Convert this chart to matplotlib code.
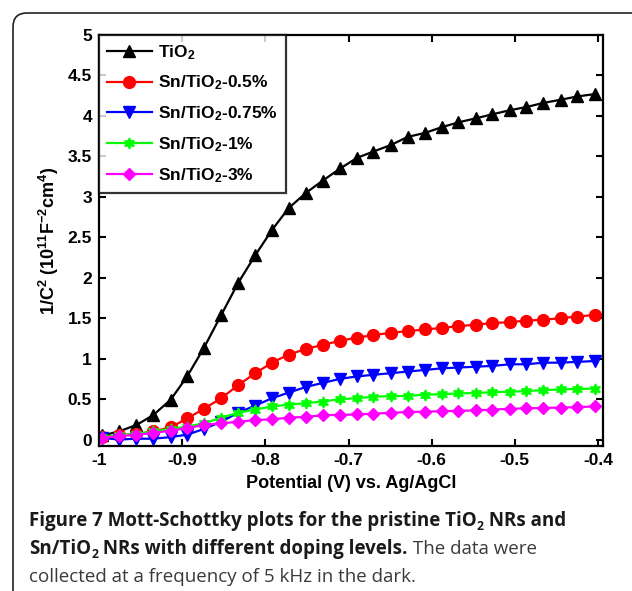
import matplotlib
matplotlib.use("Agg")
import matplotlib.pyplot as plt
from matplotlib.patches import FancyBboxPatch
from matplotlib.transforms import IdentityTransform

# potential (V vs. Ag/AgCl)
potential = [-0.996, -0.976, -0.955, -0.935, -0.914, -0.894, -0.874, -0.853, -0.833, -0.812,
             -0.792, -0.772, -0.751, -0.731, -0.710, -0.690, -0.670, -0.649, -0.629, -0.608,
             -0.588, -0.568, -0.547, -0.527, -0.506, -0.486, -0.466, -0.445, -0.425, -0.404]

# 1/C^2 (1e11 F^-2 cm^4)
tio2 = [0.05, 0.10, 0.18, 0.30, 0.49, 0.78, 1.13, 1.54, 1.93, 2.28,
        2.59, 2.86, 3.05, 3.20, 3.35, 3.48, 3.56, 3.64, 3.74, 3.79,
        3.86, 3.92, 3.97, 4.02, 4.07, 4.11, 4.16, 4.20, 4.24, 4.27]
sn_05 = [0.03, 0.05, 0.07, 0.10, 0.15, 0.26, 0.38, 0.51, 0.67, 0.82,
         0.95, 1.05, 1.12, 1.17, 1.22, 1.26, 1.29, 1.32, 1.34, 1.36,
         1.38, 1.40, 1.42, 1.44, 1.45, 1.47, 1.48, 1.50, 1.52, 1.54]
sn_075 = [0.02, 0.00, 0.01, 0.01, 0.03, 0.06, 0.13, 0.22, 0.33, 0.42,
          0.51, 0.58, 0.65, 0.70, 0.75, 0.78, 0.80, 0.82, 0.84, 0.86,
          0.88, 0.89, 0.90, 0.91, 0.93, 0.93, 0.95, 0.95, 0.96, 0.97]
sn_1 = [0.03, 0.05, 0.07, 0.10, 0.13, 0.16, 0.20, 0.27, 0.33, 0.37,
        0.41, 0.43, 0.45, 0.47, 0.50, 0.51, 0.53, 0.535, 0.54, 0.555,
        0.56, 0.57, 0.575, 0.585, 0.59, 0.60, 0.61, 0.62, 0.625, 0.63]
sn_3 = [0.02, 0.04, 0.06, 0.08, 0.11, 0.14, 0.18, 0.20, 0.22, 0.24,
        0.25, 0.27, 0.28, 0.30, 0.305, 0.31, 0.32, 0.33, 0.34, 0.345,
        0.35, 0.355, 0.36, 0.37, 0.38, 0.385, 0.39, 0.395, 0.40, 0.41]

labels = ["TiO$_2$", "Sn/TiO$_2$-0.5%", "Sn/TiO$_2$-0.75%", "Sn/TiO$_2$-1%", "Sn/TiO$_2$-3%"]
x_ticks = [-1, -0.9, -0.8, -0.7, -0.6, -0.5, -0.4]
x_ticklabels = ["-1", "-0.9", "-0.8", "-0.7", "-0.6", "-0.5", "-0.4"]
y_ticks = [0, 0.5, 1, 1.5, 2, 2.5, 3, 3.5, 4, 4.5, 5]
y_ticklabels = ["0", "0.5", "1", "1.5", "2", "2.5", "3", "3.5", "4", "4.5", "5"]

plt.rcParams["font.family"] = ["Liberation Sans", "DejaVu Sans"]
plt.rcParams["font.weight"] = "bold"
plt.rcParams["mathtext.fontset"] = "custom"
plt.rcParams["mathtext.rm"] = "Liberation Sans:bold"
plt.rcParams["mathtext.bf"] = "Liberation Sans:bold"
plt.rcParams["mathtext.default"] = "bf"

W, H = 632, 591
fig = plt.figure(figsize=(W / 100, H / 100), dpi=100)

# outer rounded frame (only top-left corner is visible)
frame = FancyBboxPatch((13, H - 13 - 700), 700, 700, boxstyle="round,pad=0,rounding_size=14",
                       transform=IdentityTransform(), facecolor="none",
                       edgecolor="#222222", linewidth=1.2)
fig.add_artist(frame)

left, right, top, bottom = 99, 603, 35, 446
ax = fig.add_axes([left / W, 1 - bottom / H, (right - left) / W, (bottom - top) / H])

styles = [
    ("black", "^", 8),
    ("#ff0000", "o", 8.5),
    ("#0000ff", "v", 8),
    ("#00ff00", (6, 1, 0), 8),
    ("#ff00ff", "D", 6.5),
]
for ys, lab, (c, m, ms) in zip([tio2, sn_05, sn_075, sn_1, sn_3], labels, styles):
    ax.plot(potential, ys, color=c, marker=m, markersize=ms, linewidth=1.6,
            markeredgecolor=c, markerfacecolor=c, label=lab)

ax.set_xlim(-1, -0.394)
ax.set_ylim(-0.08, 5)
ax.set_xticks(x_ticks)
ax.set_xticklabels(x_ticklabels)
ax.set_yticks(y_ticks)
ax.set_yticklabels(y_ticklabels)
ax.tick_params(direction="in", length=5, width=1.5, labelsize=12.5, top=True, right=True, pad=5)
for s in ax.spines.values():
    s.set_linewidth(1.6)

ax.set_xlabel("Potential (V) vs. Ag/AgCl", fontsize=13, fontweight="bold", labelpad=5)
ax.set_ylabel("1/C$^2$ (10$^{11}$F$^{-2}$cm$^4$)", fontsize=13, fontweight="bold", labelpad=5)

leg = ax.legend(loc="upper left", fontsize=12.5, frameon=True, fancybox=False,
                edgecolor="black", borderaxespad=0, handlelength=2.6, handletextpad=0.35,
                labelspacing=0.7, borderpad=0.45)
leg.get_frame().set_linewidth(1.6)

# caption with mixed weights, drawn run by run
renderer = fig.canvas.get_renderer()


def draw_runs(x, y, runs, size=13.5):
    for txt, bold, sub in runs:
        fs = size * 0.65 if sub else size
        yy = y + 4 if sub else y
        t = fig.text(x, H - yy, txt, fontsize=fs, family="Open Sans",
                     fontweight="bold" if bold else "normal",
                     color="#1a1a1a" if bold else "#3a3a3a",
                     va="baseline", ha="left", transform=IdentityTransform())
        x += t.get_window_extent(renderer).width


draw_runs(29, 526, [("Figure 7 Mott-Schottky plots for the pristine TiO", True, False),
                    ("2", True, True), (" NRs and", True, False)])
draw_runs(29, 554, [("Sn/TiO", True, False), ("2", True, True),
                    (" NRs with different doping levels.", True, False),
                    (" The data were", False, False)])
draw_runs(29, 582, [("collected at a frequency of 5 kHz in the dark.", False, False)])

fig.savefig("out.png", dpi=100)
